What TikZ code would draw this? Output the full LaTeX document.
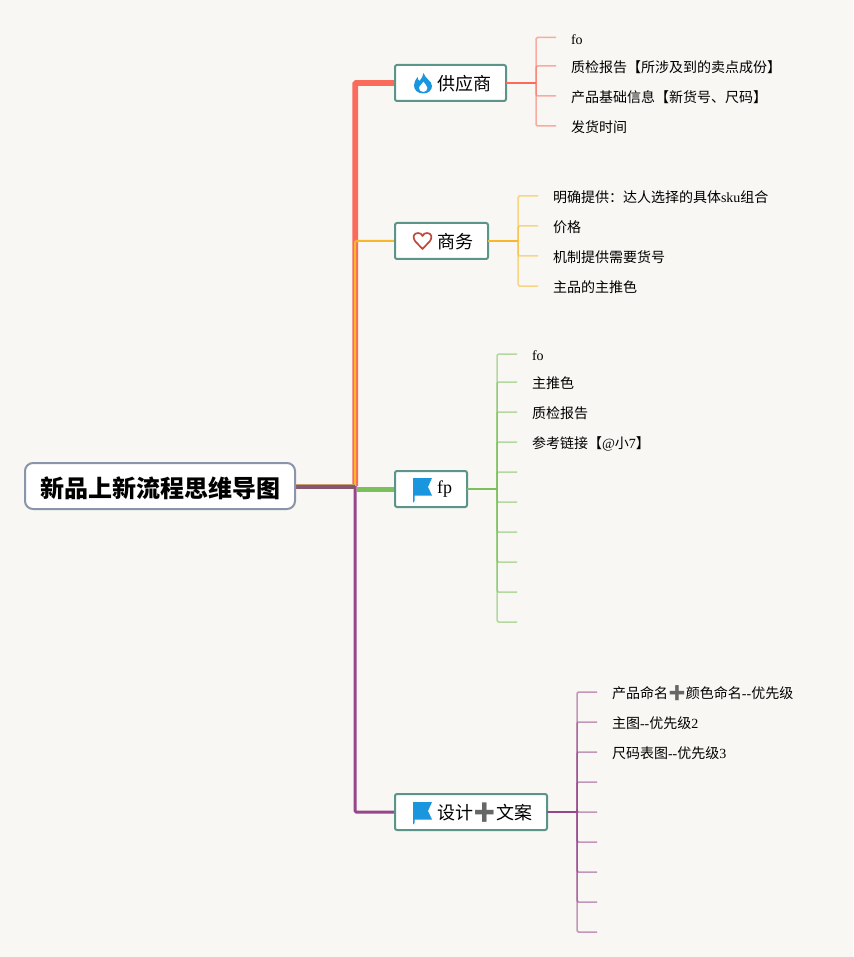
\documentclass[tikz,border=0pt]{standalone}
\usepackage{fontspec}
\setmainfont{Liberation Serif}
\newfontfamily\cjkfam{Noto Sans CJK SC}
\newfontfamily\emojifam{Noto Emoji}
\newcommand{\cj}[1]{{\cjkfam #1}}
\newcommand{\plusmark}{\makebox[1.28em][c]{\scalebox{1.12}{\emojifam\color{plusgray}\symbol{"2795}}}}
\newcommand{\topictext}[2]{\makebox[#1pt][l]{\hspace{42pt}#2}}
\definecolor{bgc}{HTML}{F8F7F4}
\definecolor{plusgray}{HTML}{666666}
\definecolor{redc}{HTML}{FB6B5B}
\definecolor{yelc}{HTML}{F9B82B}
\definecolor{grnc}{HTML}{7CC05C}
\definecolor{purc}{HTML}{97468B}
\definecolor{boxc}{HTML}{5B9488}
\definecolor{rootc}{HTML}{8A94AB}
\definecolor{iconblue}{HTML}{1A96DE}
\definecolor{heartc}{HTML}{C0493C}
\definecolor{tanc}{HTML}{C9A070}
\definecolor{mauvec}{HTML}{85586F}
\tikzset{
  rootbox/.style={draw=rootc,line width=2pt,outer sep=0pt,fill=white,rounded corners=8pt,minimum width=270pt,minimum height=46pt,inner sep=0pt,font=\fontsize{24}{28}\selectfont\bfseries,text height=22.2pt,text depth=0pt},
  topicbox/.style={draw=boxc,line width=2pt,outer sep=0pt,fill=white,rounded corners=2pt,minimum height=36pt,inner sep=0pt,anchor=west,font=\fontsize{18}{22}\selectfont,text height=15.7pt,text depth=0pt},
  leaftext/.style={anchor=west,inner ysep=0pt,inner xsep=15pt,outer sep=0pt,font=\fontsize{14}{17}\selectfont,text height=14.5pt,text depth=1pt},
  twig/.style={rounded corners=1.5pt,line width=1.5pt,opacity=.55},
  stem/.style={line width=1.5pt},
  trunk/.style={rounded corners=1pt}
}
\begin{document}
\begin{tikzpicture}[x=1pt,y=-1pt]
\useasboundingbox (0,0) rectangle (853,957);
\fill[bgc] (0,0) rectangle (853,957);

% anchor coordinates
\coordinate (hub) at (355.2,486);
\coordinate (b1) at (536,83);
\coordinate (b2) at (518,241);
\coordinate (b3) at (497,489);
\coordinate (b4) at (577,812);
\coordinate (tp1) at (395,83);
\coordinate (tp2) at (395,241);
\coordinate (tp3) at (395,489);
\coordinate (tp4) at (395,812);
\coordinate (rootout) at (295,486);
\coordinate (rootlow) at (295,486.8);
\coordinate (hublow) at (355.2,486.8);
\coordinate (grnstart) at (357,489);

% main connectors
\draw[trunk,redc,line width=5.6pt] (hub) -- (hub |- tp1) -- (tp1);
\draw[trunk,yelc,line width=2pt] (hub) -- (hub |- tp2) -- (tp2);
\draw[grnc,line width=5pt] (grnstart) -- (tp3);
\draw[trunk,purc,line width=3pt] (hub) -- (hub |- tp4) -- (tp4);
\draw[tanc,line width=5pt] (rootout) -- (hub);
\draw[mauvec,line width=3.6pt] (rootlow) -- (hublow);

% topic nodes
\node[rootbox] (root) at (160,486) {\cj{新品上新流程思维导图}};
\node[topicbox] (t1) at (tp1) {\topictext{111}{\cj{供应商}}};
\node[topicbox] (t2) at (tp2) {\topictext{93}{\cj{商务}}};
\node[topicbox,text height=8pt] (t3) at (tp3) {\topictext{72}{fp}};
\node[topicbox] (t4) at (tp4) {\topictext{152}{\cj{设计}\plusmark\cj{文案}}};

% leaf nodes
\node[leaftext] (a1) at (556,37.5) {fo};
\node[leaftext] (a2) at (556,66) {\cj{质检报告【所涉及到的卖点成份】}};
\node[leaftext] (a3) at (556,96) {\cj{产品基础信息【新货号、尺码】}};
\node[leaftext] (a4) at (556,126) {\cj{发货时间}};

\node[leaftext] (c1) at (538,196) {\cj{明确提供：达人选择的具体}sku\cj{组合}};
\node[leaftext] (c2) at (538,226) {\cj{价格}};
\node[leaftext] (c3) at (538,256) {\cj{机制提供需要货号}};
\node[leaftext] (c4) at (538,286) {\cj{主品的主推色}};

\node[leaftext] (d1) at (517,354) {fo};
\node[leaftext] (d2) at (517,382) {\cj{主推色}};
\node[leaftext] (d3) at (517,412) {\cj{质检报告}};
\node[leaftext] (d4) at (517,442) {\cj{参考链接【}@\cj{小}7\cj{】}};
\coordinate (d5) at (517,472);
\coordinate (d6) at (517,502);
\coordinate (d7) at (517,532);
\coordinate (d8) at (517,562);
\coordinate (d9) at (517,592);
\coordinate (d10) at (517,622);

\node[leaftext] (e1) at (597,692) {\cj{产品命名}\plusmark\cj{颜色命名}-{}-\cj{优先级}};
\node[leaftext] (e2) at (597,722) {\cj{主图}-{}-\cj{优先级}2};
\node[leaftext] (e3) at (597,752) {\cj{尺码表图}-{}-\cj{优先级}3};
\coordinate (e4) at (597,782);
\coordinate (e5) at (597,812);
\coordinate (e6) at (597,842);
\coordinate (e7) at (597,872);
\coordinate (e8) at (597,902);
\coordinate (e9) at (597,932);

% branches
\draw[stem,redc] (t1.east) -- (b1);
\foreach \n in {a1.west,a2.west,a3.west,a4.west}
  \draw[twig,redc] (b1) |- (\n);
\draw[stem,yelc] (t2.east) -- (b2);
\foreach \n in {c1.west,c2.west,c3.west,c4.west}
  \draw[twig,yelc] (b2) |- (\n);
\draw[stem,grnc] (t3.east) -- (b3);
\foreach \n in {d1.west,d2.west,d3.west,d4.west,d5,d6,d7,d8,d9,d10}
  \draw[twig,grnc] (b3) |- (\n);
\draw[stem,purc] (t4.east) -- (b4);
\foreach \n in {e1.west,e2.west,e3.west,e4,e5,e6,e7,e8,e9}
  \draw[twig,purc] (b4) |- (\n);

% icons
\fill[iconblue,even odd rule] (423.5,73) .. controls (424.5,78) and (432,81) .. (432,86)
  .. controls (432,90) and (428.5,93.5) .. (423.5,93.5)
  .. controls (417.5,93.5) and (414,90) .. (414,85.5)
  .. controls (414,82) and (415.5,80) .. (417.5,77)
  .. controls (417.5,79) and (418.5,80) .. (419.5,81)
  .. controls (421,79) and (423.5,76) .. (423.5,73) -- cycle
  (423.5,81.5) .. controls (424.5,84) and (427.5,85.5) .. (427.5,88)
  .. controls (427.5,90.5) and (425.5,92) .. (423.5,92)
  .. controls (420.5,92) and (419,90.5) .. (419,88)
  .. controls (419,85.5) and (422.5,84) .. (423.5,81.5) -- cycle;
\draw[heartc,line width=1.7pt,line join=round] (422.5,249) -- (415,241)
  .. controls (412,237) and (414,233) .. (418,233)
  .. controls (420,233) and (422,234) .. (422.5,236)
  .. controls (423,234) and (425,233) .. (427,233)
  .. controls (431,233) and (433,237) .. (430,241) -- cycle;
\fill[iconblue] (413,478) -- (432,478) -- (428,487) -- (432,495.5) -- (414.5,495.5) -- (414.5,501) -- (413,502.5) -- cycle;
\fill[iconblue] (413,802) -- (432,802) -- (428,811) -- (432,819.5) -- (414.5,819.5) -- (414.5,823) -- (413,824.5) -- cycle;
\end{tikzpicture}
\end{document}
